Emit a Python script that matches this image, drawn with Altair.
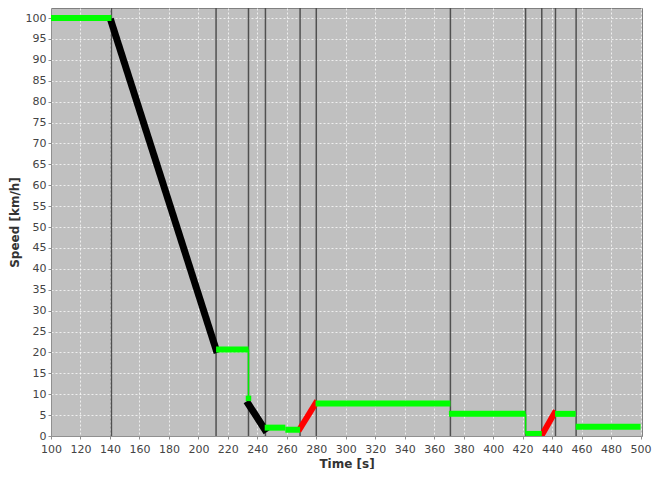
import altair as alt
import pandas as pd

# Flat (constant speed) segments - green
green_t0 = [100, 212, 245, 259, 279.5, 370, 422, 442, 456]
green_t1 = [141, 234, 259, 269, 371, 422, 433, 456, 500]
green_v = [100, 20.7, 2.0, 1.5, 7.8, 5.3, 0.5, 5.3, 2.2]

# single green markers
gm_t = [234]
gm_v = [9.0]

# thin green connectors
gc_t = [234, 422]
gc_v0 = [20.7, 5.3]
gc_v1 = [9.0, 0.5]

# deceleration - black
black_t0 = [141, 234]
black_v0 = [99.0, 7.6]
black_t1 = [212, 245]
black_v1 = [20.7, 1.6]

# acceleration - red
red_t0 = [269, 433.5]
red_v0 = [1.8, 0.5]
red_t1 = [279.5, 441.5]
red_v1 = [7.8, 5.4]

# event lines
events = [141, 212, 234, 245.5, 269, 280, 371, 422, 433, 442.3, 456.3]

x_ticks = list(range(100, 501, 20))
y_ticks = list(range(0, 101, 5))

xs = alt.Scale(domain=[100, 501], nice=False, zero=False)
ys = alt.Scale(domain=[0, 102.4], nice=False)

X = alt.X("t0:Q", scale=xs, axis=alt.Axis(values=x_ticks, title="Time [s]", grid=True,
                                          labelFlush=False, labelPadding=4, titlePadding=4))
Y = alt.Y("v0:Q", scale=ys, axis=alt.Axis(values=y_ticks, title="Speed [km/h]", grid=True,
                                          titlePadding=4))

ev_df = pd.DataFrame({"t0": events})
ev = alt.Chart(ev_df).mark_rule(color="#505050", strokeWidth=1.5).encode(
    x=X, y=alt.value(0), y2=alt.value(428)
)

def seg_df(t0, v0, t1, v1):
    return pd.DataFrame({"t0": t0, "v0": v0, "t1": t1, "v1": v1})

gdf = seg_df(green_t0, green_v, green_t1, green_v)
bdf = seg_df(black_t0, black_v0, black_t1, black_v1)
rdf = seg_df(red_t0, red_v0, red_t1, red_v1)
cdf = seg_df(gc_t, gc_v0, gc_t, gc_v1)

def segs(df, color, width, cap="butt"):
    return alt.Chart(df).mark_rule(color=color, strokeWidth=width, strokeCap=cap, clip=True).encode(
        x=X, y=Y, x2="t1:Q", y2="v1:Q"
    )

conn = segs(cdf, "#00ee00", 1.5)
black = segs(bdf, "#000000", 7, "square")
red = segs(rdf, "#ff0000", 6, "square")
green = segs(gdf, "#00ff00", 6)

gm = alt.Chart(pd.DataFrame({"t0": gm_t, "v0": gm_v})).mark_square(
    color="#00ff00", size=30, opacity=1
).encode(x=X, y=Y)

chart = alt.layer(ev, conn, black, red, green, gm).properties(
    width=591, height=428,
    autosize=alt.AutoSizeParams(type="none"),
    padding={"left": 43, "top": 0, "right": 12, "bottom": 33},
).configure_view(
    fill="#C0C0C0", stroke="#808080", strokeWidth=1
).configure_axis(
    gridColor="#ffffff", gridDash=[2, 2], gridOpacity=0.75, gridWidth=1,
    domainColor="#909090", tickColor="#909090", tickSize=3,
    labelColor="#444444", labelFont="DejaVu Sans", labelFontSize=11,
    titleFont="DejaVu Sans", titleFontSize=12, titleFontWeight="bold", titleColor="#333333",
    labelPadding=2,
)

chart.save("out.html", embed_options={"renderer": "svg", "actions": False})
